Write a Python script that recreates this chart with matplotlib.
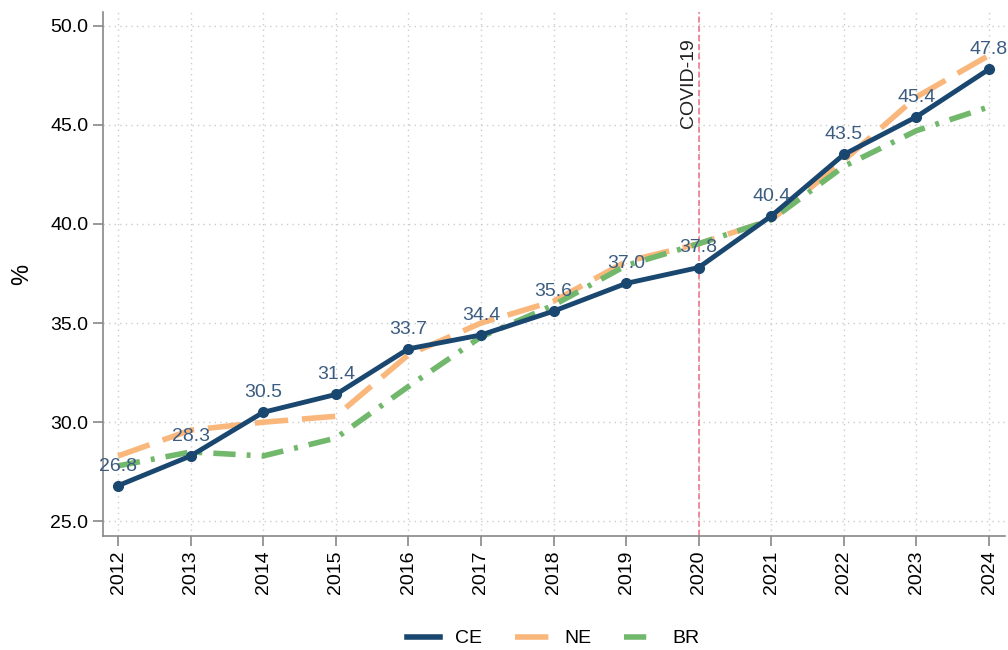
import matplotlib
matplotlib.use("Agg")
import matplotlib.pyplot as plt
from matplotlib.lines import Line2D

plt.rcParams["font.family"] = ["Liberation Sans", "DejaVu Sans"]

years = list(range(2012, 2025))
ce = [26.8, 28.3, 30.5, 31.4, 33.7, 34.4, 35.6, 37.0, 37.8, 40.4, 43.5, 45.4, 47.8]
ne = [28.3, 29.6, 30.0, 30.3, 33.4, 35.0, 36.1, 38.1, 39.0, 40.2, 43.2, 46.4, 48.5]
br = [27.8, 28.5, 28.3, 29.2, 31.8, 34.3, 35.9, 37.9, 39.0, 40.2, 42.9, 44.7, 45.9]
covid_year = 2020

navy = "#1a476f"
orange = "#f9b77c"
green = "#72b86c"

fig = plt.figure(figsize=(10.08, 6.5), dpi=100)
ax = fig.add_axes([0.102, 0.175, 0.895, 0.807])

ax.plot(years, ne, color=orange, lw=4, dashes=(6, 2.5), zorder=3)
ax.plot(years, br, color=green, lw=4, dashes=(4, 2, 0.7, 2), zorder=3)
ax.plot(years, ce, color=navy, lw=3.5, marker="o", ms=7, zorder=4)

for x, y in zip(years, ce):
    ax.annotate(f"{y:.1f}", (x, y), xytext=(0, 8), textcoords="offset points",
                ha="center", va="bottom", fontsize=14, color="#3b5c80", zorder=5)

ax.axvline(covid_year, color="#ea6f84", lw=1.1, ls=(0, (4, 2)), zorder=2)
ax.text(covid_year - 0.03, 49.35, "COVID-19", rotation=90, ha="right", va="top",
        fontsize=14, color="#222222")

ax.set_xlim(2011.79, 2024.22)
ax.set_ylim(24.25, 50.7)
ax.set_xticks(years)
ax.set_xticklabels([str(y) for y in years], rotation=90)
ax.set_yticks([25, 30, 35, 40, 45, 50])
ax.set_yticklabels([f"{v:.1f}" for v in [25, 30, 35, 40, 45, 50]])
ax.tick_params(labelsize=14, color="#888888", length=7, width=1.2)
ax.set_ylabel("%", fontsize=17, labelpad=12)

ax.grid(True, color="#cccccc", ls=(0, (1, 3)), lw=1)
for side in ["top", "right"]:
    ax.spines[side].set_visible(False)
for side in ["left", "bottom"]:
    ax.spines[side].set_color("#888888")
    ax.spines[side].set_linewidth(1.2)

handles = [
    Line2D([], [], color=navy, lw=4),
    Line2D([], [], color=orange, lw=4, dashes=(6, 2.5)),
    Line2D([], [], color=green, lw=4, dashes=(4, 2, 0.7, 2)),
]
fig.legend(handles, ["CE", "NE", "BR"], loc="lower center",
           ncol=3, frameon=False, fontsize=14, bbox_to_anchor=(0.549, -0.023),
           handlelength=1.7, handletextpad=0.8, columnspacing=1.7)

fig.savefig("out.png", dpi=100)
